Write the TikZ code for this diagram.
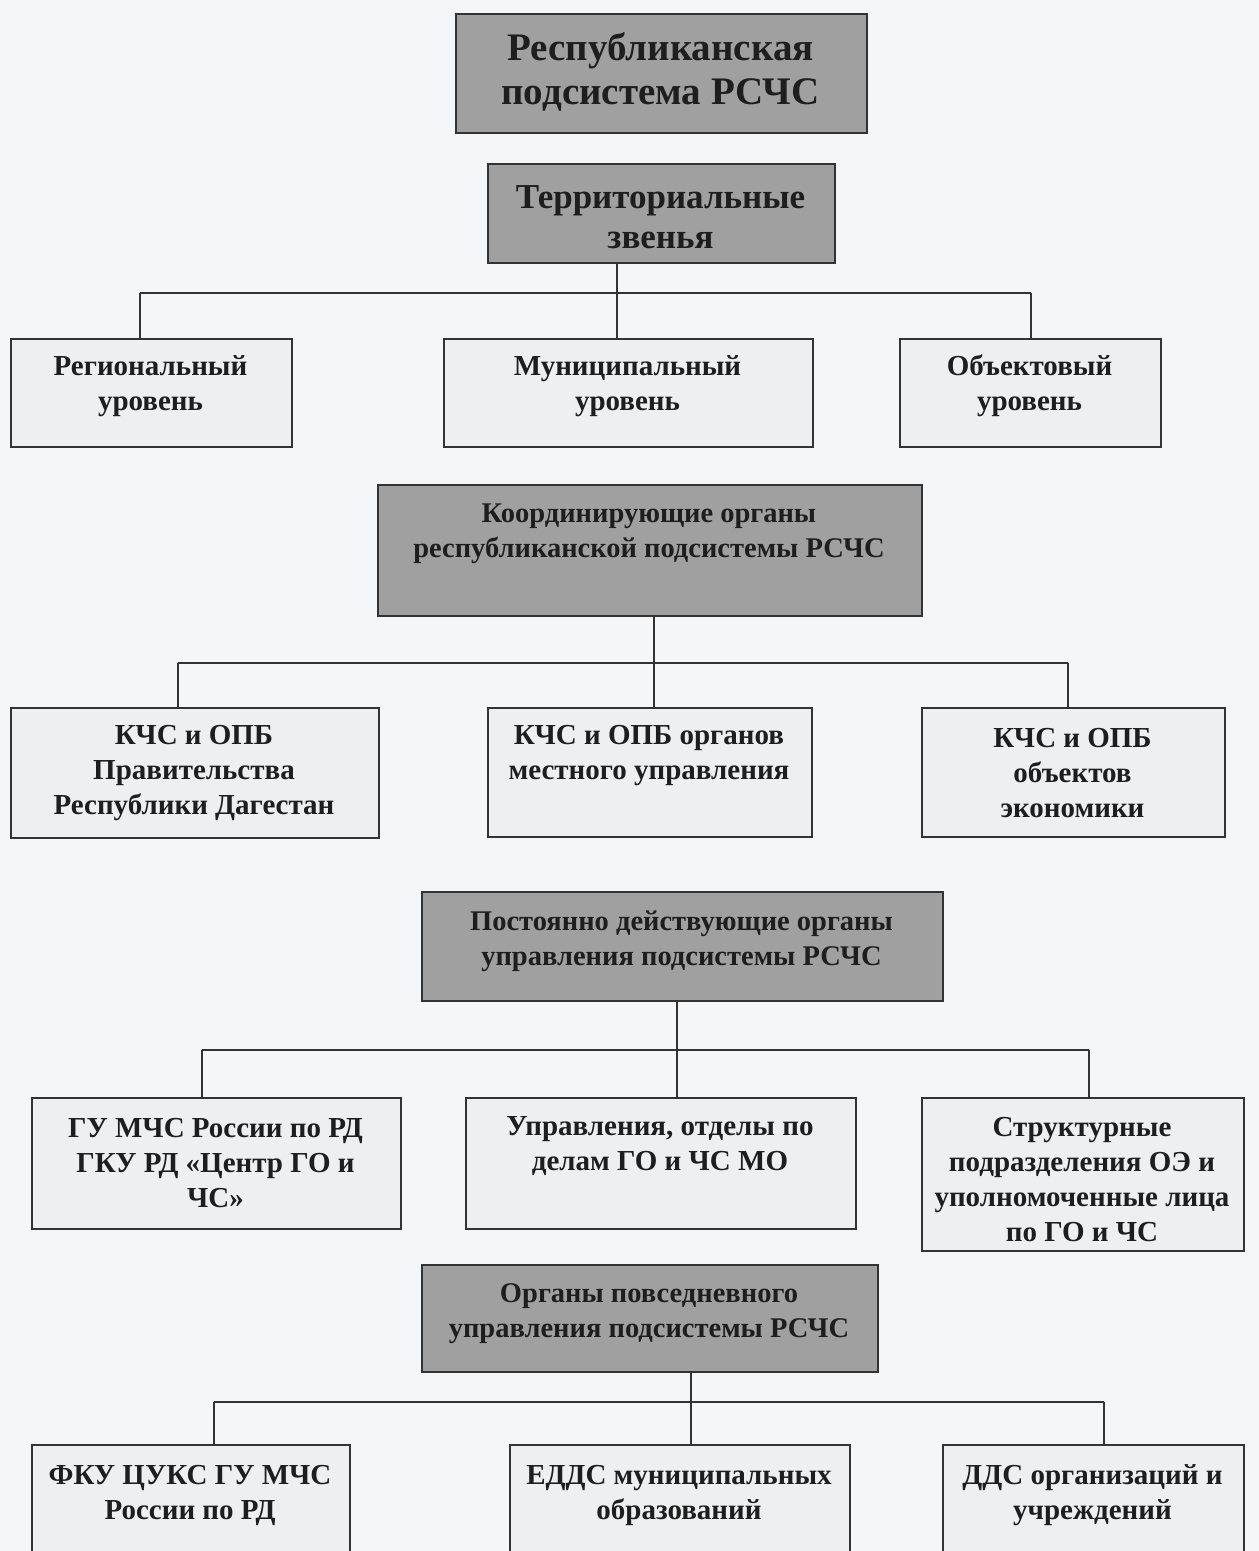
\documentclass[tikz,border=0pt]{standalone}
\usepackage{fontspec}
\setmainfont{Liberation Serif}
\definecolor{bgc}{HTML}{F5F6F8}
\definecolor{lightc}{HTML}{EEEFF0}
\definecolor{darkc}{HTML}{A0A0A0}
\definecolor{bordc}{HTML}{333333}
\definecolor{txtc}{HTML}{1E1E1E}
\tikzset{
  box/.style={draw=bordc, line width=1.8pt, fill=lightc, inner sep=0pt, anchor=north west},
  graybox/.style={box, fill=darkc},
  txt/.style={align=center, inner sep=0pt, text=txtc, font=\bfseries\fontsize{29}{35}\selectfont},
  titletxt/.style={txt, font=\bfseries\fontsize{39}{44}\selectfont},
  subtxt/.style={txt, font=\bfseries\fontsize{35}{40}\selectfont},
  headtxt/.style={txt, font=\bfseries\fontsize{28.5}{35}\selectfont},
  conn/.style={draw=bordc, line width=1.8pt}
}
\begin{document}
\begin{tikzpicture}[x=1pt,y=-1pt]
\useasboundingbox (0,0) rectangle (1259,1551);
\clip (0,0) rectangle (1259,1551);
\fill[bgc] (0,0) rectangle (1259,1551);

% level 0
\node[graybox, minimum width=411, minimum height=119] (B1) at (455,13) {};
\node[titletxt] (B1t) at (660.5,72) {Республиканская\\подсистема РСЧС};

\node[graybox, minimum width=347, minimum height=99] (B2) at (487,163) {};
\node[subtxt] (B2t) at (660.5,217) {Территориальные\\звенья};

\node[box, minimum width=281, minimum height=108] (R1a) at (10,338) {};
\node[txt] (R1at) at (150.5,386) {Региональный\\уровень};
\node[box, minimum width=369, minimum height=108] (R1b) at (443,338) {};
\node[txt] (R1bt) at (627.5,386) {Муниципальный\\уровень};
\node[box, minimum width=261, minimum height=108] (R1c) at (899,338) {};
\node[txt] (R1ct) at (1029.5,386) {Объектовый\\уровень};

\coordinate (h1l) at (140,293);
\coordinate (h1m) at (617,293);
\coordinate (h1r) at (1031,293);
\draw[conn] (h1l) -- (h1r);
\draw[conn] (B2.south -| h1m) -- (h1m) -- (R1b.north -| h1m);
\draw[conn] (h1l) -- (R1a.north -| h1l);
\draw[conn] (h1r) -- (R1c.north -| h1r);

% level 2
\node[graybox, minimum width=544, minimum height=131] (B3) at (377,484) {};
\node[headtxt] (B3t) at (649,534) {Координирующие органы\\республиканской подсистемы РСЧС};

\node[box, minimum width=368, minimum height=130] (R2a) at (10,707) {};
\node[txt] (R2at) at (194,773) {КЧС и ОПБ\\Правительства\\Республики Дагестан};
\node[box, minimum width=324, minimum height=129] (R2b) at (487,707) {};
\node[txt] (R2bt) at (649,756) {КЧС и ОПБ органов\\местного управления};
\node[box, minimum width=303, minimum height=129] (R2c) at (921,707) {};
\node[txt] (R2ct) at (1072.5,773) {КЧС и ОПБ\\объектов\\экономики};

\coordinate (h2l) at (178,663);
\coordinate (h2m) at (654,663);
\coordinate (h2r) at (1068,663);
\draw[conn] (h2l) -- (h2r);
\draw[conn] (B3.south -| h2m) -- (h2m) -- (R2b.north -| h2m);
\draw[conn] (h2l) -- (R2a.north -| h2l);
\draw[conn] (h2r) -- (R2c.north -| h2r);

% level 3
\node[graybox, minimum width=521, minimum height=109] (B4) at (421,891) {};
\node[headtxt] (B4t) at (681.5,941) {Постоянно действующие органы\\управления подсистемы РСЧС};

\node[box, minimum width=369, minimum height=131] (R3a) at (31,1097) {};
\node[txt] (R3at) at (215.5,1163) {ГУ МЧС России по РД\\ГКУ РД «Центр ГО и\\ЧС»};
\node[box, minimum width=390, minimum height=131] (R3b) at (465,1097) {};
\node[txt] (R3bt) at (660,1146) {Управления, отделы по\\делам ГО и ЧС МО};
\node[box, minimum width=322, minimum height=153] (R3c) at (921,1097) {};
\node[txt] (R3ct) at (1082,1180) {Структурные\\подразделения ОЭ и\\уполномоченные лица\\по ГО и ЧС};

\coordinate (h3l) at (202,1050);
\coordinate (h3m) at (677,1050);
\coordinate (h3r) at (1089,1050);
\draw[conn] (h3l) -- (h3r);
\draw[conn] (B4.south -| h3m) -- (h3m) -- (R3b.north -| h3m);
\draw[conn] (h3l) -- (R3a.north -| h3l);
\draw[conn] (h3r) -- (R3c.north -| h3r);

% level 4
\node[graybox, minimum width=456, minimum height=107] (B5) at (421,1264) {};
\node[headtxt] (B5t) at (649,1314) {Органы повседневного\\управления подсистемы РСЧС};

\node[box, minimum width=318, minimum height=130] (R4a) at (31,1444) {};
\node[txt] (R4at) at (190,1495) {ФКУ ЦУКС ГУ МЧС\\России по РД};
\node[box, minimum width=340, minimum height=130] (R4b) at (509,1444) {};
\node[txt] (R4bt) at (679,1495) {ЕДДС муниципальных\\образований};
\node[box, minimum width=301, minimum height=130] (R4c) at (942,1444) {};
\node[txt] (R4ct) at (1092.5,1495) {ДДС организаций и\\учреждений};

\coordinate (h4l) at (214,1402);
\coordinate (h4m) at (691,1402);
\coordinate (h4r) at (1104,1402);
\draw[conn] (h4l) -- (h4r);
\draw[conn] (B5.south -| h4m) -- (h4m) -- (R4b.north -| h4m);
\draw[conn] (h4l) -- (R4a.north -| h4l);
\draw[conn] (h4r) -- (R4c.north -| h4r);
\end{tikzpicture}
\end{document}
